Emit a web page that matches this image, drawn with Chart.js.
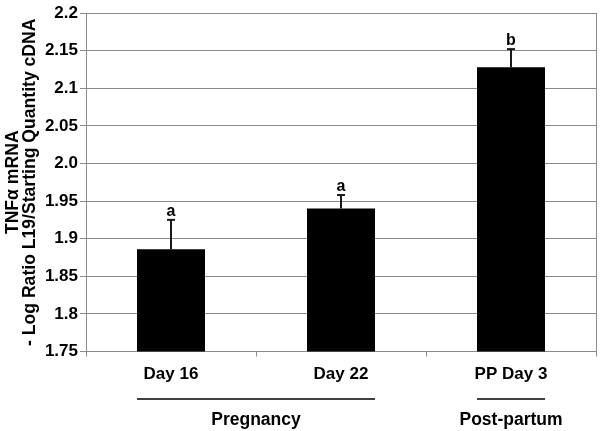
<!DOCTYPE html>
<html>
<head>
<meta charset="utf-8">
<script src="https://cdn.jsdelivr.net/npm/chart.js@4/dist/chart.umd.min.js"></script>
<style>
html,body{margin:0;padding:0;background:#fff;}
#wrap{width:600px;height:431px;}
</style>
</head>
<body>
<div id="wrap"><canvas id="c" width="600" height="431"></canvas></div>
<script>
const categories = ['Day 16', 'Day 22', 'PP Day 3'];
const values = [1.886, 1.940, 2.128];
const errors = [0.039, 0.018, 0.024];
const letters = ['a', 'a', 'b'];
const yTickLabels = {'2.2':'2.2','2.15':'2.15','2.1':'2.1','2.05':'2.05','2':'2.0','1.95':'1.95','1.9':'1.9','1.85':'1.85','1.8':'1.8','1.75':'1.75'};
const groups = [
  {label: 'Pregnancy', from: 0, to: 1},
  {label: 'Post-partum', from: 2, to: 2}
];
const yTitle = ['TNFα mRNA', '- Log Ratio L19/Starting Quantity cDNA'];

const FONT = "'Liberation Sans', Arial, Helvetica, sans-serif";
const GRID = '#8a8a8a';

const extras = {
  id: 'extras',
  afterDatasetsDraw(chart) {
    const ctx = chart.ctx;
    const y = chart.scales.y;
    const meta = chart.getDatasetMeta(0);
    const area = chart.chartArea;
    ctx.save();
    // right border
    ctx.strokeStyle = GRID;
    ctx.lineWidth = 1;
    ctx.beginPath();
    ctx.moveTo(Math.round(area.right) + 0.5, area.top);
    ctx.lineTo(Math.round(area.right) + 0.5, area.bottom);
    ctx.stroke();
    // error bars and letters
    meta.data.forEach((bar, i) => {
      const top = y.getPixelForValue(values[i]);
      const et = y.getPixelForValue(values[i] + errors[i]);
      ctx.strokeStyle = '#1a1a1a';
      ctx.lineWidth = 2;
      ctx.beginPath();
      ctx.moveTo(bar.x, top);
      ctx.lineTo(bar.x, et);
      ctx.stroke();
      ctx.beginPath();
      ctx.moveTo(bar.x - 4, et);
      ctx.lineTo(bar.x + 4, et);
      ctx.stroke();
      ctx.fillStyle = '#000';
      ctx.font = 'bold 16px ' + FONT;
      ctx.textAlign = 'center';
      ctx.textBaseline = 'alphabetic';
      ctx.fillText(letters[i], bar.x, et - 4);
    });
    // group lines and labels
    groups.forEach(g => {
      const b0 = meta.data[g.from], b1 = meta.data[g.to];
      const x0 = b0.x - b0.width / 2, x1 = b1.x + b1.width / 2;
      ctx.strokeStyle = '#000';
      ctx.lineWidth = 1.5;
      ctx.beginPath();
      ctx.moveTo(x0, 399);
      ctx.lineTo(x1, 399);
      ctx.stroke();
      ctx.fillStyle = '#000';
      ctx.font = 'bold 17.5px ' + FONT;
      ctx.textAlign = 'center';
      ctx.textBaseline = 'middle';
      ctx.fillText(g.label, (x0 + x1) / 2, 420);
    });
    ctx.restore();
  }
};

new Chart(document.getElementById('c'), {
  type: 'bar',
  data: {
    labels: categories,
    datasets: [{
      data: values,
      backgroundColor: '#000',
      borderWidth: 0,
      barPercentage: 0.4,
      categoryPercentage: 1.0
    }]
  },
  options: {
    responsive: false,
    animation: false,
    devicePixelRatio: 1,
    layout: {padding: {top: 13, right: 4, left: 0, bottom: 0}},
    plugins: {legend: {display: false}, tooltip: {enabled: false}},
    scales: {
      x: {
        afterFit(s) { s.height = 79.5; },
        grid: {display: true, drawOnChartArea: false, color: GRID, tickLength: 5, offset: true},
        border: {display: true, color: GRID, width: 1},
        ticks: {color: '#000', padding: 8, font: {family: FONT, size: 17, weight: 'bold'}}
      },
      y: {
        min: 1.75,
        max: 2.2,
        afterFit(s) { s.width = 86; },
        afterBuildTicks(s) {
          const t = [];
          for (let i = 0; i <= 9; i++) t.push({value: +(1.75 + i * 0.05).toFixed(2)});
          s.ticks = t;
        },
        grid: {color: GRID, lineWidth: 1, tickLength: 6},
        border: {display: true, color: GRID, width: 1},
        ticks: {
          color: '#000',
          padding: 2,
          font: {family: FONT, size: 17, weight: 'bold'},
          callback: (v) => yTickLabels[String(+v.toFixed(2))]
        },
        title: {
          display: true,
          text: yTitle,
          color: '#000',
          padding: {top: 4.5, bottom: 0},
          font: {family: FONT, size: 17.6, weight: 'bold', lineHeight: '17px'}
        }
      }
    }
  },
  plugins: [extras]
});
</script>
</body>
</html>
